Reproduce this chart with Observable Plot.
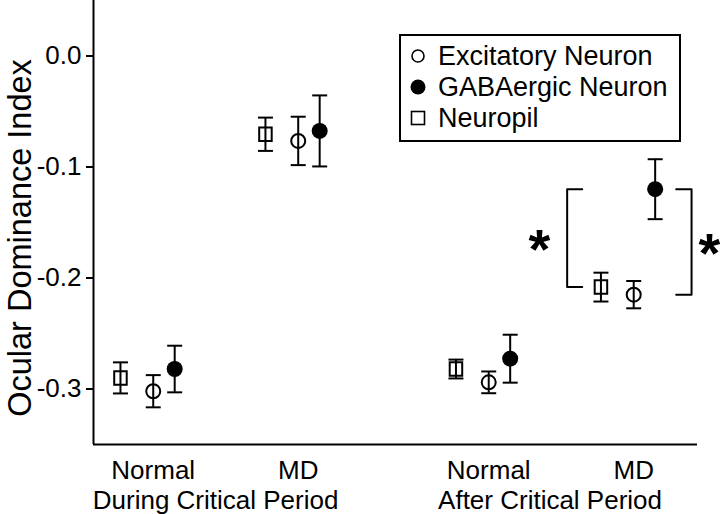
<!DOCTYPE html>
<html>
<head>
<meta charset="utf-8">
<script src="https://cdn.jsdelivr.net/npm/d3@7"></script>
<script src="https://cdn.jsdelivr.net/npm/@observablehq/plot@0.6"></script>
<style>
  body { margin: 0; background: #fff; }
  #chart { width: 720px; height: 514px; }
</style>
</head>
<body>
<div id="chart"></div>
<script>
// ---------- data ----------
const groupPeriod = ["During Critical Period", "During Critical Period", "After Critical Period", "After Critical Period"];
const groupCondition = ["Normal", "MD", "Normal", "MD"];
const periods = ["During Critical Period", "After Critical Period"];
const seriesNames = ["Excitatory Neuron", "GABAergic Neuron", "Neuropil"];
const excitatoryMean = [-0.302, -0.0765, -0.294, -0.215];
const excitatoryErr  = [0.0145, 0.0218, 0.0098, 0.0123];
const gabaMean       = [-0.282, -0.0675, -0.2727, -0.120];
const gabaErr        = [0.021, 0.032, 0.0216, 0.027];
const neuropilMean   = [-0.290, -0.0705, -0.282, -0.2082];
const neuropilErr    = [0.014, 0.015, 0.0085, 0.013];
const yTicks = [0.0, -0.1, -0.2, -0.3];
const yLabel = "Ocular Dominance Index";
// significance brackets in the "MD / After Critical Period" group
const sigPairs = [
  {a: "GABAergic Neuron", b: "Neuropil", mark: "*"},
  {a: "GABAergic Neuron", b: "Excitatory Neuron", mark: "*"}
];

// ---------- layout (not data) ----------
const layout = {
  groupX: [0, 1, 2.314, 3.314],
  seriesDX: {"Excitatory Neuron": 0, "GABAergic Neuron": 0.148, "Neuropil": -0.226},
  periodX: [0.43, 2.737],
  xDomain: [-0.412, 3.754],
  yDomain: [-0.35, 0.05],
  bracketBar: [2.855, 3.713],
  bracketArm: [2.959, 3.607],
  starX: [2.664, 3.836]
};

const seriesData = {
  "Excitatory Neuron": [excitatoryMean, excitatoryErr],
  "GABAergic Neuron": [gabaMean, gabaErr],
  "Neuropil": [neuropilMean, neuropilErr]
};

const rows = [];
groupCondition.forEach((cond, i) => {
  seriesNames.forEach(s => {
    const [m, e] = seriesData[s];
    rows.push({period: groupPeriod[i], condition: cond, series: s, mean: m[i], err: e[i],
               x: layout.groupX[i] + layout.seriesDX[s]});
  });
});

const lastGroup = 3;
const meanOf = s => seriesData[s][0][lastGroup];
const bracketLines = [];
const stars = [];
sigPairs.forEach((p, k) => {
  const top = meanOf(p.a), bottom = meanOf(p.b);
  const bar = layout.bracketBar[k], arm = layout.bracketArm[k];
  [[arm, top], [bar, top], [bar, bottom], [arm, bottom]].forEach(([x, y]) => bracketLines.push({k, x, y}));
  stars.push({x: layout.starX[k], y: (top + bottom) / 2, text: p.mark});
});

const labelRows = groupCondition.map((c, i) => ({x: layout.groupX[i], text: c}));
const periodRows = periods.map((p, i) => ({x: layout.periodX[i], text: p}));

// ---------- symbols ----------
const capSymbol = {draw(ctx, size) { const r = Math.sqrt(size / Math.PI); ctx.moveTo(-r, 0); ctx.lineTo(r, 0); }};
const rectSymbol = {draw(ctx, size) { const r = Math.sqrt(size / Math.PI); ctx.rect(-0.926 * r, -r, 1.852 * r, 2 * r); }};

const FONT = "'Liberation Sans', Arial, Helvetica, sans-serif";

const plot = Plot.plot({
  width: 720,
  height: 514,
  marginLeft: 93,
  marginRight: 23,
  marginTop: 0,
  marginBottom: 70,
  style: {fontFamily: FONT, fontSize: "26px", background: "#fff", color: "#000", overflow: "visible"},
  x: {type: "linear", domain: layout.xDomain, axis: null},
  y: {domain: layout.yDomain, axis: null},
  marks: [
    Plot.axisY({ticks: yTicks, tickFormat: d => d.toFixed(1), tickSize: 7, tickPadding: 5,
                fontSize: 26, strokeWidth: 2, label: null}),
    Plot.ruleX([layout.xDomain[0]], {strokeWidth: 2}),
    Plot.ruleY([layout.yDomain[0]], {strokeWidth: 2}),
    // error bars
    Plot.ruleX(rows, {x: "x", y1: d => d.mean - d.err, y2: d => d.mean + d.err, stroke: "#000", strokeWidth: 2}),
    Plot.dot(rows, {x: "x", y: d => d.mean - d.err, symbol: capSymbol, r: 7.5, fill: "none", stroke: "#000", strokeWidth: 2}),
    Plot.dot(rows, {x: "x", y: d => d.mean + d.err, symbol: capSymbol, r: 7.5, fill: "none", stroke: "#000", strokeWidth: 2}),
    // markers
    Plot.dot(rows.filter(d => d.series === "Excitatory Neuron"), {x: "x", y: "mean", r: 7, fill: "none", stroke: "#000", strokeWidth: 2}),
    Plot.dot(rows.filter(d => d.series === "GABAergic Neuron"), {x: "x", y: "mean", r: 8, fill: "#000", stroke: "none"}),
    Plot.dot(rows.filter(d => d.series === "Neuropil"), {x: "x", y: "mean", symbol: rectSymbol, r: 6.75, fill: "none", stroke: "#000", strokeWidth: 2}),
    // significance brackets
    Plot.line(bracketLines, {x: "x", y: "y", z: "k", stroke: "#000", strokeWidth: 2, curve: "linear"}),
    Plot.text(stars, {x: "x", y: "y", text: "text", fontSize: 56, fontWeight: "bold", lineAnchor: "bottom", dy: 30, fill: "#000"}),
    // x labels
    Plot.text(labelRows, {x: "x", text: "text", frameAnchor: "bottom", lineAnchor: "bottom", dy: 34, fontSize: 26, fill: "#000"}),
    Plot.text(periodRows, {x: "x", text: "text", frameAnchor: "bottom", lineAnchor: "bottom", dy: 64, fontSize: 26, fill: "#000"}),
    // y label
    Plot.text([yLabel], {frameAnchor: "left", textAnchor: "middle", rotate: -90, lineAnchor: "bottom", dx: -63, dy: 15.5, fontSize: 32.5, fill: "#000"})
  ]
});

// legend drawn inside the plot's SVG
const svg = d3.select(plot);
const lg = svg.append("g").attr("font-family", FONT).attr("font-size", 27).attr("text-anchor", "start");
lg.append("rect").attr("x", 400).attr("y", 35).attr("width", 280).attr("height", 106)
  .attr("fill", "#fff").attr("stroke", "#000").attr("stroke-width", 2);
seriesNames.forEach((s, i) => {
  const cy = 56 + i * 31;
  const cx = 418;
  if (s === "Excitatory Neuron") {
    lg.append("circle").attr("cx", cx).attr("cy", cy).attr("r", 6).attr("fill", "none").attr("stroke", "#000").attr("stroke-width", 1.6);
  } else if (s === "GABAergic Neuron") {
    lg.append("circle").attr("cx", cx).attr("cy", cy).attr("r", 7.5).attr("fill", "#000");
  } else {
    lg.append("rect").attr("x", cx - 6.5).attr("y", cy - 6.5).attr("width", 13).attr("height", 13).attr("fill", "none").attr("stroke", "#000").attr("stroke-width", 1.6);
  }
  lg.append("text").attr("x", 438).attr("y", cy + 9).attr("text-anchor", "start").attr("fill", "#000").text(s);
});

document.getElementById("chart").appendChild(plot);
</script>
</body>
</html>
